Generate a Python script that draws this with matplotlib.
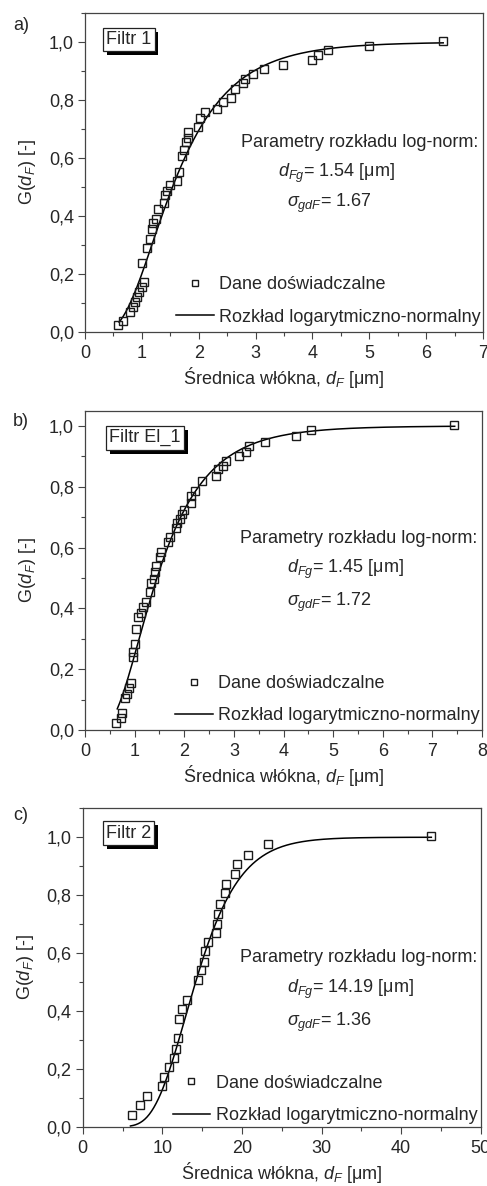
import math
import numpy as np
import matplotlib
matplotlib.use('Agg')
import matplotlib.pyplot as plt
import matplotlib.patheffects as pe
from matplotlib.ticker import MultipleLocator

plt.rcParams['font.family'] = ['Liberation Sans', 'DejaVu Sans']
plt.rcParams['mathtext.fontset'] = 'custom'
plt.rcParams['mathtext.rm'] = 'Liberation Sans'
plt.rcParams['mathtext.it'] = 'Liberation Sans:italic'
plt.rcParams['mathtext.bf'] = 'Liberation Sans:bold'

# ---- data ----
d_a = [0.575, 0.66, 0.80, 0.84, 0.88, 0.92, 0.955, 1.0, 1.03, 1.01, 1.085, 1.14, 1.17, 1.2,
       1.24, 1.29, 1.39, 1.41, 1.45, 1.49, 1.62, 1.66, 1.70, 1.74, 1.78, 1.82, 1.82, 1.99,
       2.03, 2.11, 2.33, 2.43, 2.56, 2.64, 2.78, 2.81, 2.96, 3.15, 3.49, 4.0, 4.10, 4.28,
       5.0, 6.30]
g_a = [0.023, 0.037, 0.069, 0.086, 0.103, 0.12, 0.138, 0.155, 0.172, 0.236, 0.29, 0.32, 0.353,
       0.374, 0.39, 0.422, 0.443, 0.471, 0.486, 0.508, 0.52, 0.552, 0.606, 0.627, 0.655, 0.667,
       0.69, 0.705, 0.737, 0.758, 0.77, 0.792, 0.805, 0.837, 0.857, 0.873, 0.889, 0.905, 0.92,
       0.939, 0.954, 0.971, 0.987, 1.003]

d_b = [0.624, 0.718, 0.752, 0.805, 0.84, 0.89, 0.92, 0.96, 0.96, 1.01, 1.03, 1.07, 1.13, 1.17,
       1.23, 1.31, 1.33, 1.39, 1.42, 1.44, 1.51, 1.54, 1.68, 1.71, 1.83, 1.86, 1.91, 1.96,
       1.99, 2.13, 2.13, 2.21, 2.35, 2.64, 2.68, 2.79, 2.85, 3.11, 3.24, 3.31, 3.62, 4.26,
       4.55, 7.43]
g_b = [0.022, 0.038, 0.057, 0.104, 0.12, 0.137, 0.155, 0.24, 0.257, 0.284, 0.333, 0.372, 0.385,
       0.404, 0.421, 0.454, 0.483, 0.497, 0.519, 0.538, 0.568, 0.585, 0.617, 0.634, 0.664,
       0.68, 0.694, 0.71, 0.724, 0.748, 0.77, 0.787, 0.82, 0.836, 0.858, 0.869, 0.885, 0.902,
       0.915, 0.934, 0.948, 0.967, 0.986, 1.002]

d_c = [6.16, 7.20, 8.12, 10.0, 10.26, 10.87, 11.43, 11.77, 11.93, 12.12, 12.5, 13.07, 14.5,
       14.9, 15.2, 15.32, 15.79, 16.72, 16.83, 17.04, 17.25, 17.85, 18.05, 19.18, 19.38,
       20.8, 23.32, 43.72]
g_c = [0.040, 0.074, 0.106, 0.139, 0.172, 0.206, 0.238, 0.270, 0.305, 0.372, 0.405, 0.438,
       0.507, 0.540, 0.569, 0.607, 0.638, 0.669, 0.702, 0.735, 0.771, 0.807, 0.840, 0.872,
       0.906, 0.940, 0.975, 1.006]

letters = ['a)', 'b)', 'c)']
filters = ['Filtr 1', 'Filtr El_1', 'Filtr 2']
d_fg = ['1.54', '1.45', '14.19']
sigma_g = ['1.67', '1.72', '1.36']
curve_from = [0.6, 0.65, 6.0]
curve_to = [6.3, 7.45, 43.8]
x_max = [7, 8, 50]
y_max = [1.1, 1.05, 1.1]
x_major = [1, 1, 10]
y_ticks = [0.0, 0.2, 0.4, 0.6, 0.8, 1.0]
y_ticklabels = ['0,0', '0,2', '0,4', '0,6', '0,8', '1,0']

points = [(d_a, g_a), (d_b, g_b), (d_c, g_c)]

# ---- layout ----
W, H = 487, 1186
axes_px = [(85, 483, 13, 331.7), (85, 482, 410.7, 730), (82.7, 480.7, 808.3, 1126.7)]
letter_y = [25, 422, 816]
param_xy = [(0.987, 0.580), (0.988, 0.587), (0.991, 0.518)]
dfg_xy = [(0.486, 0.486), (0.5096, 0.4927), (0.514, 0.421)]
sig_xy = [(0.508, 0.390), (0.5096, 0.388), (0.514, 0.316)]
box_xy = [(0.053, 0.917), (0.061, 0.915), (0.0585, 0.922)]
leg_xy = [(1.003, 0.008), (1.004, 0.006), (1.001, -0.003)]

txt = '#262626'
fs = 13

fig = plt.figure(figsize=(W / 100, H / 100), dpi=100)

for i in range(3):
    l, r, t, b = axes_px[i]
    ax = fig.add_axes([l / W, 1 - b / H, (r - l) / W, (b - t) / H])

    dg = float(d_fg[i])
    sg = float(sigma_g[i])
    xs = np.linspace(curve_from[i], curve_to[i], 400)
    z = np.log(xs / dg) / (math.sqrt(2) * math.log(sg))
    gs = 0.5 * (1 + np.array([math.erf(v) for v in z]))

    line, = ax.plot(xs, gs, color='k', lw=1.1, label='Rozkład logarytmiczno-normalny')
    pts, = ax.plot(points[i][0], points[i][1], 's', mfc='none', mec='#1a1a1a', ms=5.2, mew=1.0,
                   label='Dane doświadczalne')

    ax.set_xlim(0, x_max[i])
    ax.set_ylim(0, y_max[i])
    ax.xaxis.set_major_locator(MultipleLocator(x_major[i]))
    ax.xaxis.set_minor_locator(MultipleLocator(x_major[i] / 2))
    ax.set_yticks(y_ticks)
    ax.set_yticklabels(y_ticklabels)
    ax.yaxis.set_minor_locator(MultipleLocator(0.1))
    ax.tick_params(which='both', direction='out', top=False, right=False, colors='#444444',
                   labelcolor=txt, labelsize=fs)
    ax.tick_params(which='major', length=5, width=0.8)
    ax.tick_params(which='minor', length=3, width=0.8)
    ax.tick_params(axis='x', pad=4.5)
    ax.tick_params(axis='y', pad=3)
    for s in ax.spines.values():
        s.set_color('#444444')
        s.set_linewidth(0.9)

    ax.set_xlabel('Średnica włókna, $d_F$ [μm]', fontsize=fs, color=txt, labelpad=2)
    ax.set_ylabel('G($d_F$) [-]', fontsize=fs, color=txt)
    ax.yaxis.set_label_coords(-0.118, 0.5)

    ax.text(*param_xy[i], 'Parametry rozkładu log-norm:', transform=ax.transAxes,
            ha='right', va='baseline', fontsize=fs, color=txt)
    ax.text(*dfg_xy[i], '$d_{Fg}$= ' + d_fg[i] + ' [μm]', transform=ax.transAxes,
            ha='left', va='baseline', fontsize=fs, color=txt)
    ax.text(*sig_xy[i], r'$\sigma_{gdF}$= ' + sigma_g[i], transform=ax.transAxes,
            ha='left', va='baseline', fontsize=fs, color=txt)

    tb = ax.text(*box_xy[i], filters[i], transform=ax.transAxes, ha='left', va='center',
                 fontsize=fs, color=txt,
                 bbox=dict(boxstyle='square,pad=0.18', fc='white', ec='#222222', lw=0.9))
    tb.get_bbox_patch().set_path_effects([pe.SimplePatchShadow(offset=(2.8, -2.8),
                                                               shadow_rgbFace='k', alpha=1.0),
                                          pe.Normal()])

    ax.legend(handles=[pts, line], loc='lower right', bbox_to_anchor=leg_xy[i],
              frameon=False, fontsize=fs, handlelength=2.1, handletextpad=0.3,
              labelspacing=0.85, borderpad=0.2, borderaxespad=0, labelcolor=txt,
              markerscale=0.8)

    fig.text(13 / W, 1 - letter_y[i] / H, letters[i], ha='left', va='center',
             fontsize=fs, color=txt)

fig.savefig('out.png', dpi=100)
